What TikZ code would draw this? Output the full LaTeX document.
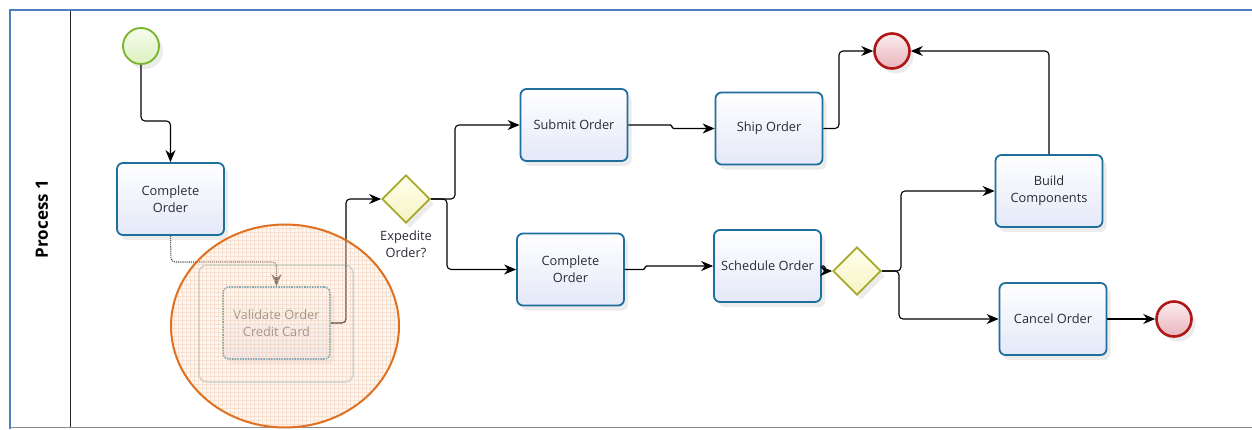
\documentclass[tikz,border=0pt]{standalone}
\usepackage{fontspec}
\setmainfont{Open Sans}
\usetikzlibrary{shapes.geometric,arrows.meta,shadows}
\definecolor{poolblue}{HTML}{4F7FBF}
\definecolor{taskblue}{HTML}{1E6E9E}
\definecolor{taskfill}{HTML}{E4E8F8}
\definecolor{textcol}{HTML}{2A2A38}
\definecolor{gwborder}{HTML}{A8A828}
\definecolor{gwtop}{HTML}{FFFFEC}
\definecolor{gwbot}{HTML}{F4F4C4}
\definecolor{endred}{HTML}{B01818}
\definecolor{endtop}{HTML}{FBECEE}
\definecolor{endbot}{HTML}{E8B4BC}
\definecolor{startgreen}{HTML}{78B428}
\definecolor{starttop}{HTML}{F6FCEC}
\definecolor{startbot}{HTML}{DCF0C0}
\definecolor{hlorange}{HTML}{E07020}
\definecolor{hlfill}{HTML}{FBE2CE}
\definecolor{hlgrid}{HTML}{F0C0A0}
\definecolor{fadeblue}{HTML}{B4D6E0}
\definecolor{fadeteal}{HTML}{4A94AE}
\tikzset{
  tasksize/.style={font=\fontsize{12.8}{17}\selectfont},
  task/.style={draw=taskblue, line width=1.8pt, rounded corners=6pt,
    top color=white, bottom color=taskfill, minimum width=107pt,
    minimum height=72pt, align=center, text=textcol, inner sep=2pt,
    tasksize,
    drop shadow={opacity=0.15, shadow xshift=4pt, shadow yshift=-5pt}},
  gateway/.style={diamond, draw=gwborder, line width=1.8pt,
    top color=gwtop, bottom color=gwbot, minimum width=48pt,
    minimum height=48pt, inner sep=0pt,
    drop shadow={opacity=0.15, shadow xshift=4pt, shadow yshift=-5pt}},
  startev/.style={circle, draw=startgreen, line width=1.8pt,
    top color=starttop, bottom color=startbot, minimum size=36pt, inner sep=0pt,
    drop shadow={opacity=0.15, shadow xshift=4pt, shadow yshift=-5pt}},
  endev/.style={circle, draw=endred, line width=2.6pt,
    top color=endtop, bottom color=endbot, minimum size=35pt, inner sep=0pt,
    drop shadow={opacity=0.15, shadow xshift=4pt, shadow yshift=-5pt}},
  flow/.style={draw=black, line width=1.1pt, rounded corners=4pt,
    -{Stealth[length=12pt,width=10pt]}},
  smallflow/.style={flow, rounded corners=1.5pt},
  fadeflow/.style={draw=black!70, line width=1.1pt, densely dotted, rounded corners=4pt,
    -{Stealth[length=12pt,width=10pt]}},
}
\begin{document}
\begin{tikzpicture}[x=1pt,y=-1pt]
\useasboundingbox (0,0) rectangle (1252,429);
\fill[white] (0,0) rectangle (1252,429);
% pool and lane
\draw[black!45, line width=1.5pt] (10,427.5) -- (1252,427.5);
\draw[poolblue, line width=2pt] (9,10) -- (1252,10);
\draw[poolblue, line width=2pt] (10,9) -- (10,429);
\draw[black!85, line width=1pt] (70,11) -- (70,427);
\node[rotate=90, font=\fontsize{17}{20}\selectfont\bfseries, text=black] (lane) at (42,219) {Process 1};

% nodes
\node[startev] (start) at (141,46) {};
\node[task] (co1) at (170.5,199) {Complete\\Order};
\node[draw=fadeblue, line width=1.5pt, rounded corners=8pt, minimum width=154pt,
  minimum height=117pt, fill=white] (valout) at (276,323.5) {};
\node[draw=fadeteal, line width=1.6pt, densely dotted, rounded corners=6pt,
  top color=white, bottom color=taskfill!70, minimum width=107pt, minimum height=72pt,
  align=center, text=black!55, tasksize,
  drop shadow={opacity=0.12, shadow xshift=4pt, shadow yshift=-5pt}] (val) at (276.5,323) {Validate Order\\Credit Card};
\node[gateway] (gw1) at (406,199) {};
\node[text=textcol, align=center, tasksize, anchor=north] (gw1lab) at ([yshift=-3pt]gw1.south) {Expedite\\Order?};
\node[task] (submit) at (574,125) {Submit Order};
\node[task] (co2) at (570.5,269.5) {Complete\\Order};
\node[task] (ship) at (769,128.5) {Ship Order};
\node[task] (sched) at (767.5,266) {Schedule Order};
\node[gateway] (gw2) at (857,271) {};
\node[endev] (end1) at (892,51) {};
\node[task] (build) at (1049,191) {Build\\Components};
\node[task] (cancel) at (1053,319) {Cancel Order};
\node[endev] (end2) at (1174,319) {};

% connectors
\draw[flow] (start.south) -- (141,121) -| (co1.north);
\draw[fadeflow] (co1.south) -- (171,262) -| (val.north);
\draw[flow] (val.east) -| (346,199) -- (gw1.west);
\draw[flow] (gw1.east) -- (455,199) |- (submit.west);
\draw[flow] (gw1.east) -- (447,199) |- (co2.west);
\draw[smallflow] (submit.east) -- (672,125) -- (672,128.5) -- (ship.west);
\draw[smallflow] (co2.east) -- (645,269.5) -- (645,266) -- (sched.west);
\draw[smallflow] (sched.east) -- (825,266) -- (825,271) -- (gw2.west);
\draw[flow] (gw2.east) -- (901,271) |- (build.west);
\draw[flow] (gw2.east) -- (899,271) |- (cancel.west);
\draw[flow] (ship.east) -- (839,128.5) |- (end1.west);
\draw[flow] (build.north) |- (end1.east);
\draw[flow] (cancel.east) -- (end2.west);

% highlight overlay
\begin{scope}
  \clip (285,326) ellipse [x radius=114, y radius=101.5];
  \fill[hlfill, opacity=0.28] (160,220) rectangle (410,430);
  \foreach \gx in {170,174,...,402} {
    \draw[hlgrid, line width=0.3pt, opacity=0.35] (\gx,222) -- (\gx,429);
  }
  \foreach \gy in {224,228,...,428} {
    \draw[hlgrid, line width=0.3pt, opacity=0.35] (170,\gy) -- (401,\gy);
  }
\end{scope}
\draw[hlorange, line width=2pt] (285,326) ellipse [x radius=114, y radius=101.5];
\end{tikzpicture}
\end{document}
